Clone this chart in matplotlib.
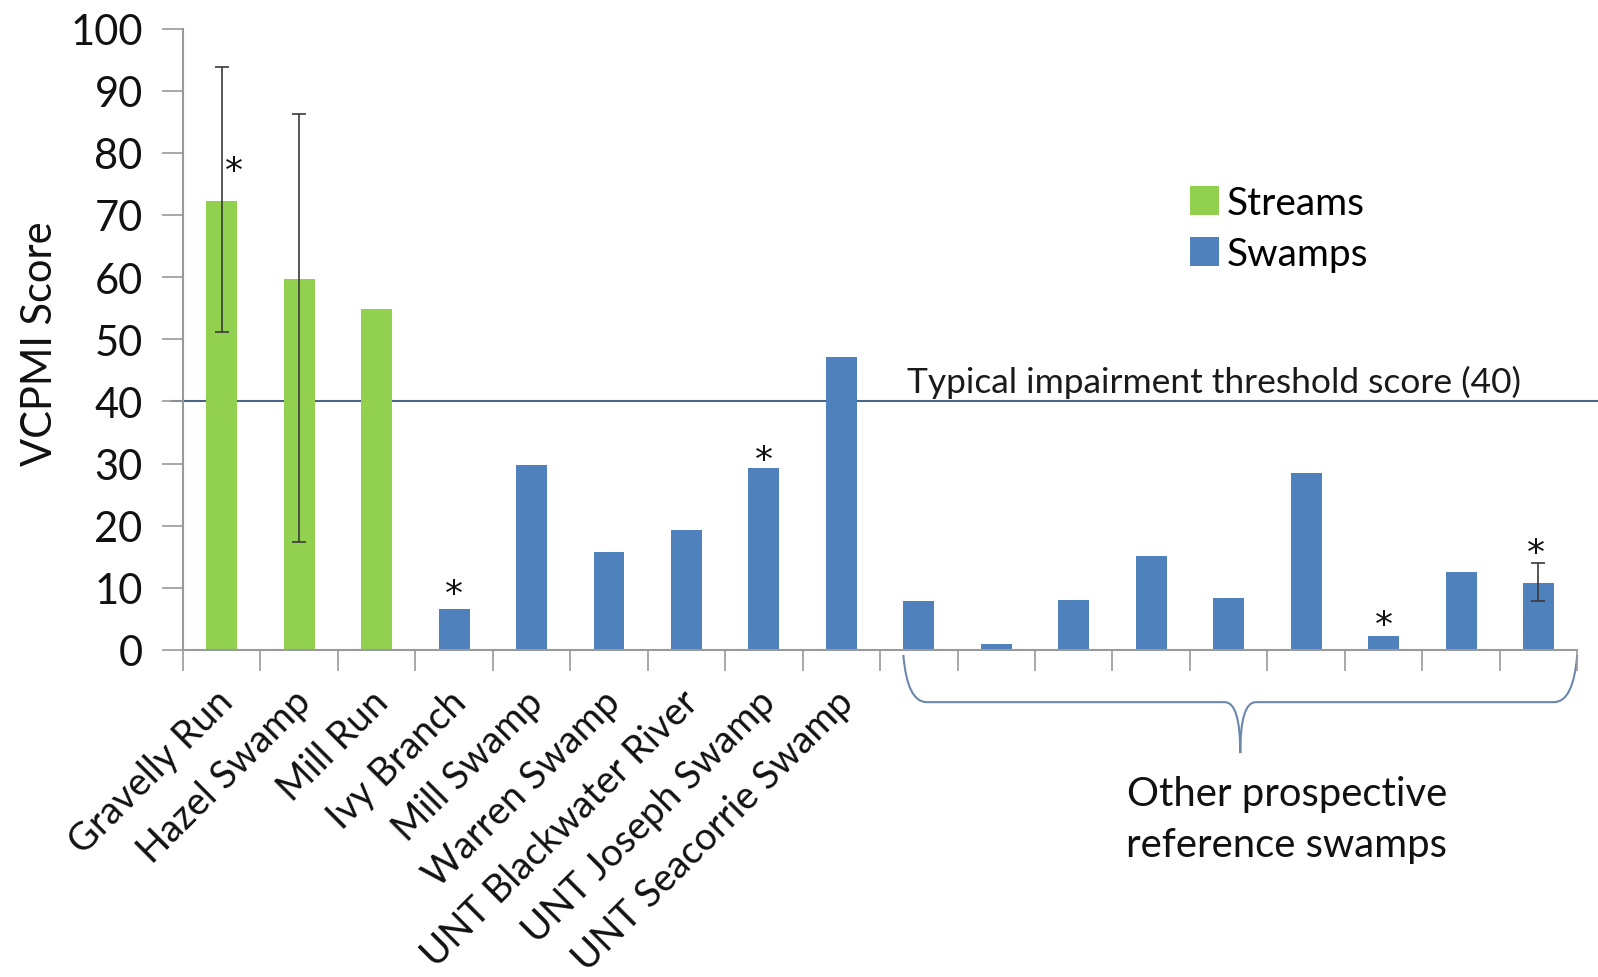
import matplotlib
matplotlib.use("Agg")
import matplotlib.pyplot as plt
from matplotlib.path import Path
from matplotlib.patches import PathPatch, Patch
import matplotlib.transforms as mtransforms
import numpy as np

plt.rcParams['font.family'] = ['Lato', 'DejaVu Sans']

labels = ["Gravelly Run", "Hazel Swamp", "Mill Run", "Ivy Branch", "Mill Swamp",
          "Warren Swamp", "UNT Blackwater River", "UNT Joseph Swamp", "UNT Seacorrie Swamp",
          "", "", "", "", "", "", "", "", ""]
values = [72.3, 59.7, 54.9, 6.6, 29.8, 15.7, 19.3, 29.3, 47.2,
          7.9, 1.0, 8.0, 15.2, 8.4, 28.5, 2.3, 12.6, 10.8]
groups = ["Streams", "Streams", "Streams"] + ["Swamps"] * 15
err_idx = [0, 1, 17]
err_low = [51.1, 17.4, 7.8]
err_high = [93.8, 86.2, 14.0]
star_idx = [0, 3, 7, 15, 17]
threshold = 40
threshold_label = "Typical impairment threshold score (40)"
brace_label = "Other prospective\nreference swamps"

colors = {"Streams": "#92D050", "Swamps": "#4F81BD"}

fig = plt.figure(figsize=(15.98, 9.78), dpi=100)
ax = fig.add_axes([0.1145, 0.3344, 0.8725, 0.6354])

x = np.arange(len(values))
ax.bar(x, values, width=0.4, color=[colors[g] for g in groups], zorder=2)

# error bars
ev = np.array([values[i] for i in err_idx])
yerr = np.vstack([ev - np.array(err_low), np.array(err_high) - ev])
ax.errorbar(err_idx, ev, yerr=yerr, fmt='none', ecolor='#3a3a3a', elinewidth=1.2,
            capsize=5, capthick=1.2, zorder=3)

# asterisks
star_y = {0: 77.0, 3: 9.0, 7: 30.6, 15: 4.0, 17: 15.6}
star_dx = {0: 0.16, 3: 0.0, 7: 0.0, 15: 0.0, 17: -0.03}
for i in star_idx:
    ax.text(i + star_dx[i], star_y[i], "*", ha='center', va='center', fontsize=26,
            family='DejaVu Sans', color='#111111', zorder=4)

ax.set_xlim(-0.5, len(values) - 0.5)
ax.set_ylim(0, 100)
ax.set_yticks(np.arange(0, 101, 10))
ax.set_xticks(x)
ax.set_xticklabels(labels, rotation=45, ha='right', va='center', rotation_mode='anchor',
                   fontsize=27.5, color='#111111')
ax.set_xticks(np.arange(-0.5, len(values), 1.0), minor=True)
ax.tick_params(axis='x', which='major', length=0, pad=33)
ax.tick_params(axis='x', which='minor', length=15, width=1.2, color='#9a9a9a', direction='out')
ax.tick_params(axis='y', length=15, width=1.2, color='#9a9a9a', direction='out',
               labelsize=30, pad=14, labelcolor='#111111')
offset = mtransforms.ScaledTranslation(6 / 100, 0, fig.dpi_scale_trans)
for lab in ax.get_xticklabels():
    lab.set_transform(lab.get_transform() + offset)

for s in ['top', 'right']:
    ax.spines[s].set_visible(False)
for s in ['left', 'bottom']:
    ax.spines[s].set_color('#9a9a9a')
    ax.spines[s].set_linewidth(1.5)

ax.set_ylabel("VCPMI Score", fontsize=30, color='#111111')
ax.yaxis.set_label_coords(-0.089, 0.495)

# threshold line
trans = mtransforms.blended_transform_factory(ax.transAxes, ax.transData)
ax.plot([-0.008, 1.02], [threshold, threshold], transform=trans, color='#4a6488',
        lw=1.5, clip_on=False, zorder=1)
ax.text(8.85, threshold + 0.6, threshold_label, fontsize=25.5, color='#1a1a1a',
        ha='left', va='bottom')

# legend
handles = [Patch(facecolor=colors["Streams"]), Patch(facecolor=colors["Swamps"])]
ax.legend(handles, ["Streams", "Swamps"], loc='upper left', frameon=False,
          bbox_to_anchor=(0.711, 0.773), fontsize=28, handlelength=0.75, handleheight=0.75,
          handletextpad=0.2, labelspacing=0.38, borderaxespad=0)

# brace
xl, xr, xm = 8.8, 17.5, 13.15
yh, yt, y0 = -8.4, -16.6, -0.8
verts = [(xl, y0), (xl + 0.05, yh), (xl + 0.3, yh),
         (xm - 0.2, yh),
         (xm, yh), (xm, yt),
         (xm, yh), (xm + 0.2, yh),
         (xr - 0.3, yh),
         (xr - 0.05, yh), (xr, y0)]
codes = [Path.MOVETO, Path.CURVE3, Path.CURVE3,
         Path.LINETO,
         Path.CURVE3, Path.CURVE3,
         Path.CURVE3, Path.CURVE3,
         Path.LINETO,
         Path.CURVE3, Path.CURVE3]
ax.add_patch(PathPatch(Path(verts, codes), facecolor='none', edgecolor='#6a88ac',
                       lw=1.5, clip_on=False))
ax.text(13.75, -27.2, brace_label, ha='center', va='center', fontsize=28.8,
        color='#111111', linespacing=1.45)

fig.savefig("out.png", dpi=100)
